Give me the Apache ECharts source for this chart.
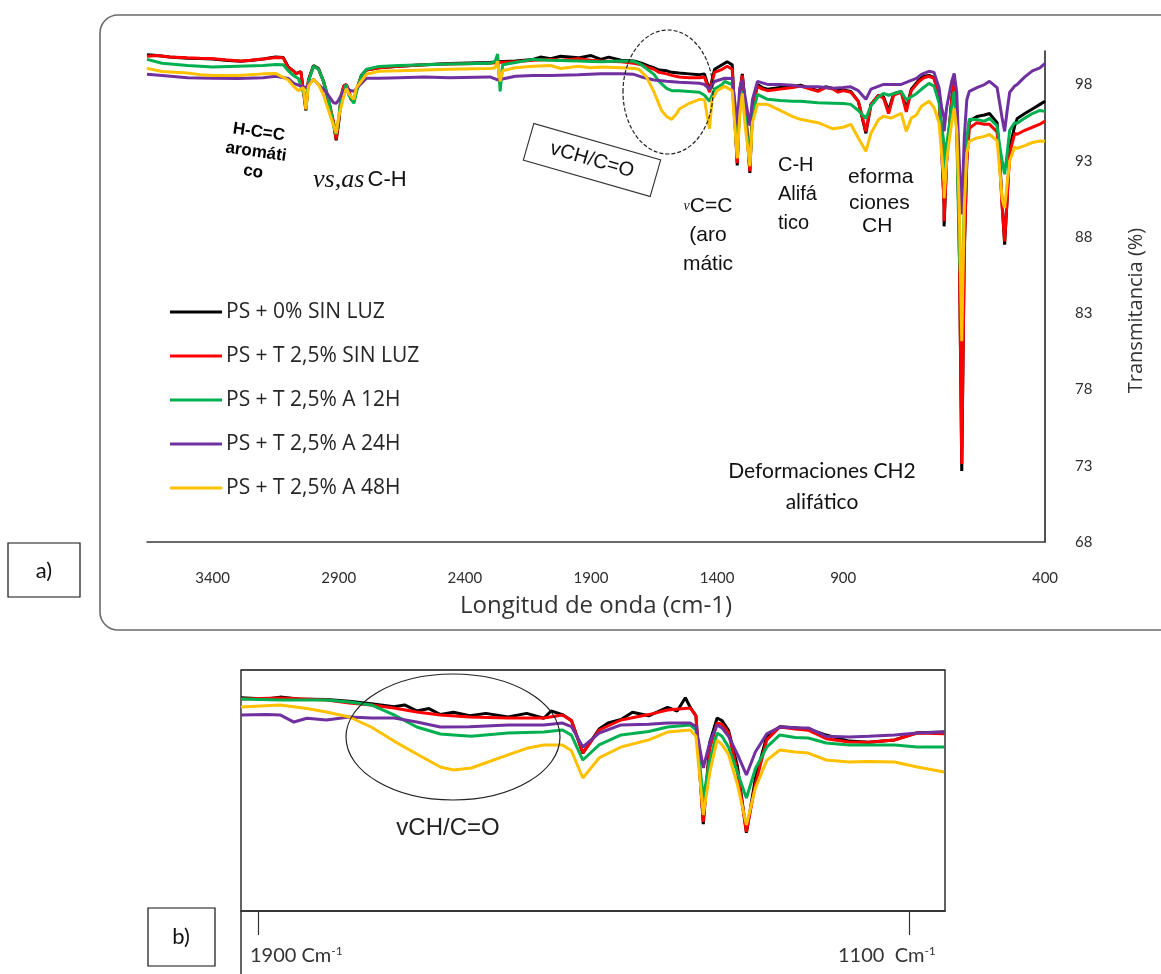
<!DOCTYPE html>
<html>
<head>
<meta charset="utf-8">
<script src="https://cdn.jsdelivr.net/npm/echarts@6/dist/echarts.min.js"></script>
<style>
  html, body { margin: 0; padding: 0; background: #fff; }
  #chart { width: 1161px; height: 974px; }
</style>
</head>
<body>
<div id="chart"></div>
<script>
// ---- Spectra data: [wavenumber (cm-1), transmittance (%)] ----
const seriesNames = ['PS + 0% SIN LUZ', 'PS + T 2,5% SIN LUZ', 'PS + T 2,5% A 12H', 'PS + T 2,5% A 24H', 'PS + T 2,5% A 48H'];
const seriesColors = ['#000000', '#FF0000', '#00B050', '#7030A0', '#FFC000'];

// wavenumber categories of the full-range axis (denser sampling below 900 cm-1)
const wnHigh = { from: 3660, to: 910, step: 10 };
const wnLow = { from: 900, to: 400, step: 6.25 };
const xTickLabels = ['3400', '2900', '2400', '1900', '1400', '900', '400'];
const yTicksA = { min: 68, max: 100.2, interval: 5 };

const ps0 = [[3660,99.95],[3620,99.9],[3570,99.8],[3500,99.72],[3450,99.7],[3400,99.68],[3350,99.6],[3290,99.52],[3250,99.58],[3200,99.68],[3150,99.8],[3120,99.78],[3100,99.15],[3080,98.9],[3070,98.72],[3050,98.85],[3030,96.3],[3020,98.3],[3000,99.25],[2980,99.05],[2960,98.2],[2940,96.9],[2920,95.4],[2910,94.35],[2900,95.5],[2890,97.2],[2880,97.9],[2870,98.0],[2860,97.6],[2850,97.0],[2840,96.9],[2830,97.6],[2810,98.6],[2790,98.95],[2740,99.1],[2660,99.2],[2560,99.3],[2460,99.38],[2300,99.45],[2270,99.5],[2200,99.55],[2130,99.65],[2100,99.8],[2060,99.7],[2020,99.85],[1950,99.75],[1900,99.9],[1860,99.65],[1830,99.8],[1780,99.6],[1730,99.55],[1700,99.4],[1670,99.2],[1650,99.1],[1630,98.95],[1600,98.9],[1580,98.8],[1550,98.75],[1510,98.7],[1470,98.65],[1450,98.7],[1430,97.6],[1410,99.0],[1380,99.3],[1360,99.5],[1340,99.3],[1320,92.7],[1310,97.5],[1300,98.7],[1290,97.0],[1270,92.2],[1260,96.5],[1240,98.0],[1220,97.8],[1200,97.7],[1150,97.8],[1100,97.85],[1070,97.95],[1030,97.75],[1000,97.6],[970,97.85],[940,97.75],[920,97.6],[900,97.65],[880,97.55],[860,96.9],[843,94.8],[830,96.7],[815,97.3],[800,97.2],[790,96.3],[775,97.4],[756,97.55],[744,96.4],[730,97.7],[710,98.3],[700,98.55],[690,98.6],[675,98.45],[665,97.3],[659,94],[653,90],[647,88.7],[641,93],[634,97.0],[627,98.25],[619,96],[612,88],[605,72.65],[598,87],[591,93],[585,95.6],[570,95.9],[550,96.0],[536,96.1],[520,95.5],[510,93.3],[504,90.2],[498,87.5],[492,90.5],[485,93.8],[478,95.3],[469,95.78],[450,96.1],[430,96.4],[415,96.7],[400,96.9]];

const psT25 = [[3660,99.85],[3620,99.9],[3570,99.8],[3500,99.75],[3450,99.72],[3400,99.7],[3350,99.62],[3290,99.55],[3250,99.6],[3200,99.68],[3150,99.78],[3120,99.75],[3100,99.1],[3080,98.9],[3070,98.7],[3050,98.85],[3030,96.4],[3020,98.3],[3000,99.2],[2980,99.0],[2960,98.2],[2940,97.0],[2920,95.5],[2910,94.41],[2900,95.6],[2890,97.3],[2880,97.9],[2870,98.0],[2860,97.6],[2850,97.0],[2840,96.9],[2830,97.6],[2810,98.6],[2790,98.95],[2740,99.1],[2660,99.2],[2560,99.3],[2460,99.35],[2300,99.4],[2270,99.45],[2200,99.5],[2130,99.6],[2060,99.65],[2020,99.6],[1950,99.7],[1900,99.6],[1860,99.55],[1780,99.5],[1730,99.4],[1700,99.3],[1670,99.1],[1650,99.0],[1630,98.8],[1600,98.7],[1580,98.6],[1550,98.5],[1510,98.45],[1470,98.45],[1450,98.5],[1430,97.5],[1410,98.8],[1380,99.0],[1360,99.2],[1340,99.0],[1320,92.84],[1310,97.4],[1300,98.6],[1290,96.9],[1270,92.31],[1260,96.4],[1240,97.88],[1220,97.7],[1200,97.6],[1150,97.7],[1100,97.8],[1070,97.9],[1030,97.7],[1000,97.55],[970,97.8],[940,97.7],[920,97.5],[900,97.6],[880,97.5],[860,96.9],[843,94.93],[830,96.7],[815,97.3],[800,97.1],[790,96.1],[775,97.3],[756,97.5],[744,96.2],[730,97.6],[710,98.2],[700,98.45],[690,98.54],[675,98.4],[665,97.3],[659,94],[653,90],[647,89.04],[641,93],[634,97.0],[627,98.2],[619,96],[612,88],[605,73.11],[598,87],[591,93],[585,95.13],[570,95.5],[550,95.4],[536,95.39],[520,94.9],[510,93.0],[504,90],[498,87.72],[492,90.5],[485,93.5],[478,94.8],[469,94.74],[450,95.0],[430,95.2],[415,95.4],[400,95.6]];

const psT25h12 = [[3660,99.65],[3600,99.4],[3500,99.25],[3450,99.2],[3400,99.15],[3300,99.2],[3200,99.25],[3150,99.32],[3120,99.3],[3100,98.9],[3080,98.6],[3060,98.4],[3030,97.0],[3020,98.2],[3000,99.2],[2980,99.0],[2960,98.2],[2940,97.0],[2920,95.3],[2910,94.74],[2900,95.8],[2890,97.3],[2870,98.0],[2855,97.3],[2840,96.77],[2830,97.5],[2810,98.6],[2790,99.0],[2740,99.19],[2660,99.25],[2560,99.3],[2460,99.35],[2300,99.4],[2280,99.5],[2270,100.0],[2260,97.55],[2250,99.3],[2200,99.45],[2130,99.65],[2060,99.6],[1950,99.55],[1860,99.5],[1780,99.55],[1730,99.52],[1700,99.3],[1650,98.67],[1630,98.2],[1600,97.75],[1580,97.6],[1550,97.6],[1510,97.55],[1470,97.5],[1450,97.3],[1430,96.9],[1410,97.7],[1380,98.0],[1370,98.2],[1340,98.0],[1320,93.3],[1310,96.6],[1300,97.6],[1290,96.2],[1270,92.8],[1260,95.9],[1240,97.36],[1200,97.03],[1150,96.95],[1100,96.9],[1070,96.9],[1000,96.8],[940,96.77],[900,96.75],[881,96.7],[860,96.3],[843,95.78],[830,96.6],[815,97.2],[800,97.42],[790,97.3],[756,97.55],[744,97.0],[720,97.4],[706,97.69],[690,98.08],[675,97.9],[665,96.8],[653,94],[647,92.12],[641,94],[634,96.5],[627,97.55],[619,95],[612,87],[605,83.79],[598,90],[591,94.5],[585,95.72],[570,95.7],[550,95.6],[536,95.78],[520,95.3],[510,94],[504,93],[498,92.12],[492,93.5],[485,95],[478,95.5],[469,95.46],[450,95.8],[430,96.1],[415,96.3],[400,96.24]];

const psT25h24 = [[3660,98.67],[3600,98.6],[3500,98.45],[3400,98.41],[3300,98.4],[3200,98.45],[3150,98.54],[3100,98.4],[3080,98.1],[3050,97.9],[3030,97.8],[3000,98.34],[2980,98.0],[2950,97.5],[2920,96.8],[2910,96.77],[2900,97.0],[2880,97.6],[2870,97.7],[2850,97.6],[2840,97.55],[2820,97.9],[2790,98.41],[2740,98.41],[2660,98.45],[2560,98.5],[2460,98.45],[2300,98.5],[2270,98.3],[2200,98.55],[2130,98.6],[2060,98.6],[1950,98.65],[1860,98.7],[1780,98.7],[1730,98.67],[1700,98.5],[1650,98.3],[1600,98.21],[1550,98.15],[1470,98.08],[1450,98.0],[1430,97.7],[1410,98.2],[1370,98.41],[1340,98.4],[1320,95.4],[1310,97.8],[1300,98.3],[1290,97.3],[1270,95.3],[1260,97.0],[1240,98.21],[1200,98.01],[1150,98.0],[1100,97.95],[1070,97.88],[1000,97.85],[940,97.75],[900,97.8],[881,97.85],[860,97.6],[843,97.03],[830,97.7],[800,98.01],[756,98.01],[720,98.4],[706,98.67],[690,98.87],[675,98.8],[665,97.8],[659,96.5],[653,95.8],[647,94.93],[641,96.5],[634,98.2],[627,98.73],[619,97.5],[612,93],[605,89.49],[598,94.5],[591,97],[585,97.55],[570,97.8],[550,98.0],[536,98.21],[520,97.8],[510,96.8],[504,95.8],[498,94.93],[492,96.3],[485,97.5],[478,97.9],[469,98.01],[450,98.5],[430,98.9],[415,99.1],[400,99.39]];

const psT25h48 = [[3660,99.06],[3600,98.85],[3500,98.75],[3450,98.65],[3400,98.6],[3300,98.6],[3200,98.7],[3150,98.73],[3100,98.3],[3080,97.9],[3060,97.6],[3040,97.8],[3030,96.37],[3020,97.9],[3000,98.34],[2980,98.0],[2960,97.3],[2940,96.3],[2920,95.3],[2910,94.8],[2900,95.9],[2880,97.2],[2870,97.75],[2855,97.4],[2840,97.03],[2825,97.8],[2790,98.67],[2740,98.87],[2660,98.9],[2560,98.95],[2460,99.0],[2300,99.05],[2280,99.1],[2270,99.52],[2260,98.2],[2250,98.9],[2200,99.1],[2130,99.2],[2060,99.25],[2020,99.05],[1950,99.2],[1900,99.1],[1860,99.15],[1780,99.1],[1730,99.06],[1710,99.0],[1680,98.5],[1650,97.5],[1620,96.3],[1600,95.9],[1580,95.72],[1560,96.1],[1550,96.4],[1510,96.77],[1470,97.03],[1450,97.0],[1430,95.1],[1420,97.0],[1400,97.6],[1370,97.88],[1340,97.6],[1320,93.16],[1310,96.0],[1300,97.42],[1290,95.5],[1270,92.64],[1260,95.5],[1240,96.7],[1200,96.7],[1150,96.3],[1100,95.9],[1070,95.72],[1000,95.5],[940,95.1],[900,95.2],[881,95.39],[860,94.5],[843,93.62],[830,94.8],[815,95.7],[800,95.92],[780,95.8],[756,96.11],[744,94.93],[730,95.8],[720,96.0],[706,96.57],[690,96.9],[675,96.5],[665,95.5],[659,93.5],[653,91.5],[647,90.54],[641,93],[634,95.5],[627,96.44],[619,95],[612,90],[605,81.17],[598,90],[591,93.5],[585,94.28],[570,94.5],[550,94.6],[536,94.74],[520,94.3],[510,92.5],[504,90.5],[498,89.89],[492,91.5],[485,93],[478,93.9],[469,93.82],[450,94.0],[430,94.2],[415,94.3],[400,94.28]];

// ---- Detail of the 1900-1100 cm-1 region ----
const detailRange = { min: 1056, max: 1921 };
const detailTicks = [1900, 1100];

const ps0Detail = [[1921,97.7],[1890,97.6],[1873,97.75],[1850,97.6],[1816,97.55],[1788,97.4],[1761,97.2],[1733,96.95],[1720,97.1],[1705,96.6],[1690,96.8],[1676,96.3],[1660,96.5],[1640,96.2],[1620,96.4],[1593,96.1],[1570,96.4],[1549,96.0],[1540,96.6],[1526,96.3],[1515,95.8],[1501,93.1],[1481,95.1],[1470,95.6],[1454,95.9],[1440,96.5],[1420,96.2],[1397,96.9],[1385,96.6],[1375,97.7],[1369,96.9],[1362,96.2],[1353,87.2],[1345,94.0],[1336,96.02],[1330,95.8],[1322,95.0],[1311,92.0],[1300,86.5],[1289,91],[1275,94.5],[1259,95.3],[1240,95.2],[1224,95.1],[1202,94.6],[1174,94.1],[1150,94.0],[1118,94.2],[1090,94.8],[1057,94.85]];
const psT25Detail = [[1921,97.6],[1873,97.68],[1816,97.51],[1788,97.26],[1761,97.1],[1733,96.85],[1705,96.51],[1676,96.27],[1640,96.1],[1593,96.02],[1549,96.02],[1526,96.27],[1515,95.8],[1501,93.11],[1481,95.02],[1454,95.85],[1420,96.3],[1397,96.68],[1369,96.85],[1362,96.2],[1353,87.39],[1345,93.5],[1336,95.6],[1330,95.5],[1322,94.8],[1311,91.5],[1300,86.56],[1289,90.5],[1275,94.2],[1259,95.27],[1240,95.1],[1224,95.0],[1202,94.3],[1174,94.02],[1150,94.0],[1118,94.19],[1090,94.77],[1057,94.7]];
const psT25h12Detail = [[1921,97.6],[1873,97.51],[1816,97.51],[1788,97.34],[1761,97.1],[1733,96.27],[1705,95.27],[1676,94.69],[1660,94.61],[1638,94.5],[1593,94.77],[1549,94.85],[1526,95.02],[1515,94.6],[1501,92.53],[1481,93.78],[1454,94.61],[1420,94.9],[1397,95.27],[1369,95.44],[1362,95.0],[1353,89.38],[1345,92.5],[1336,94.77],[1330,94.5],[1322,93.6],[1311,91.5],[1300,89.38],[1289,91.8],[1275,93.6],[1259,94.61],[1240,94.4],[1224,94.36],[1202,93.94],[1174,93.78],[1150,93.78],[1118,93.78],[1090,93.61],[1057,93.61]];
const psT25h24Detail = [[1921,96.27],[1890,96.3],[1873,96.27],[1856,95.68],[1840,96.0],[1816,95.85],[1788,96.1],[1761,96.02],[1733,96.02],[1705,95.68],[1676,95.27],[1640,95.3],[1593,95.44],[1549,95.44],[1526,95.6],[1515,95.3],[1501,93.61],[1481,94.77],[1454,95.44],[1420,95.5],[1397,95.6],[1369,95.6],[1362,95.3],[1353,91.87],[1345,94.0],[1336,95.44],[1330,95.2],[1322,94.5],[1311,93.0],[1300,91.29],[1289,93.2],[1275,94.7],[1259,95.27],[1240,95.2],[1224,95.19],[1202,94.5],[1174,94.44],[1150,94.5],[1118,94.61],[1090,94.77],[1057,94.85]];
const psT25h48Detail = [[1921,96.93],[1873,97.1],[1840,96.8],[1816,96.51],[1788,96.1],[1761,95.27],[1733,94.1],[1705,93.03],[1676,91.95],[1660,91.7],[1638,91.87],[1620,92.3],[1593,92.95],[1570,93.5],[1549,93.78],[1526,93.78],[1515,93.3],[1501,91.04],[1481,92.7],[1454,93.61],[1420,94.2],[1397,94.85],[1369,95.02],[1362,94.5],[1353,87.97],[1345,91.5],[1336,94.19],[1330,93.8],[1322,93.0],[1311,90.5],[1300,87.14],[1289,90.2],[1275,92.5],[1259,93.36],[1240,93.2],[1224,93.11],[1202,92.53],[1174,92.37],[1150,92.4],[1118,92.37],[1090,91.95],[1057,91.54]];

const fullSpectra = [ps0, psT25, psT25h12, psT25h24, psT25h48];
const detailSpectra = [ps0Detail, psT25Detail, psT25h12Detail, psT25h24Detail, psT25h48Detail];

// ---- category axis built from the two sampling segments ----
const wnValues = [];
for (let w = wnHigh.from; w >= wnHigh.to; w -= wnHigh.step) wnValues.push(w);
for (let w = wnLow.from; w >= wnLow.to; w -= wnLow.step) wnValues.push(w);
const wnCategories = wnValues.map(w => String(w));

function categoryIndex(w) {
  let best = 0, bestD = Infinity;
  for (let i = 0; i < wnValues.length; i++) {
    const d = Math.abs(wnValues[i] - w);
    if (d < bestD) { bestD = d; best = i; }
  }
  return best;
}

const SANS = '"Liberation Sans", Arial, sans-serif';
const CAL = 'Lato, "Open Sans", sans-serif';
const WIDE = '"Open Sans", Lato, sans-serif';

const series = [];
fullSpectra.forEach((pts, k) => {
  series.push({
    name: seriesNames[k], type: 'line', xAxisIndex: 0, yAxisIndex: 0,
    data: pts.map(p => [categoryIndex(p[0]), p[1]]),
    showSymbol: false, symbol: 'none', lineStyle: { width: 3, color: seriesColors[k] },
    itemStyle: { color: seriesColors[k] }, z: 2 + k, silent: true
  });
});
detailSpectra.forEach((pts, k) => {
  series.push({
    name: seriesNames[k], type: 'line', xAxisIndex: 1, yAxisIndex: 1,
    data: pts, showSymbol: false, symbol: 'none',
    lineStyle: { width: 3, color: seriesColors[k] },
    itemStyle: { color: seriesColors[k] }, z: 2 + k, silent: true
  });
});

const chart = echarts.init(document.getElementById('chart'), null, { renderer: 'canvas' });

const option = {
  animation: false,
  backgroundColor: '#ffffff',
  color: seriesColors,
  grid: [
    { left: 147, top: 51, width: 898, height: 491 },
    { left: 241, top: 670, width: 704, height: 241 }
  ],
  legend: {
    data: seriesNames,
    orient: 'vertical', left: 170, top: 301, padding: 0,
    icon: 'rect', itemWidth: 52, itemHeight: 3, itemGap: 22,
    textStyle: { fontFamily: WIDE, fontSize: 21, color: '#262626', lineHeight: 22, padding: [0, 0, 0, -1] },
    selectedMode: false
  },
  xAxis: [
    {
      type: 'category', gridIndex: 0, data: wnCategories, boundaryGap: false,
      axisLine: { show: true, lineStyle: { color: '#3a3a3a', width: 1.5 } },
      axisTick: { show: false },
      axisLabel: {
        interval: (idx, val) => xTickLabels.includes(val),
        margin: 29, fontFamily: CAL, fontSize: 15, color: '#2e2e2e'
      },
      splitLine: { show: false },
      name: 'Longitud de onda (cm-1)', nameLocation: 'middle', nameGap: 52,
      nameTextStyle: { fontFamily: WIDE, fontSize: 24, color: '#333' }
    },
    {
      type: 'value', gridIndex: 1, inverse: true,
      min: detailRange.min, max: detailRange.max,
      axisLine: { show: true, onZero: false, lineStyle: { color: '#333', width: 1.5 } },
      axisTick: { show: true, customValues: detailTicks, length: 24, lineStyle: { color: '#333', width: 1.2 } },
      axisLabel: { show: false },
      splitLine: { show: false }
    }
  ],
  yAxis: [
    {
      type: 'value', gridIndex: 0, position: 'right',
      min: yTicksA.min, max: yTicksA.max, interval: yTicksA.interval,
      axisLine: { show: true, lineStyle: { color: '#1a1a1a', width: 1.5 } },
      axisTick: { show: false },
      splitLine: { show: false },
      axisLabel: {
        margin: 30, fontFamily: CAL, fontSize: 15, color: '#2e2e2e',
        formatter: v => (Math.abs((v - yTicksA.min) % yTicksA.interval) < 1e-6 ? String(v) : '')
      },
      name: 'Transmitancia (%)', nameLocation: 'middle', nameGap: 81, nameRotate: 90,
      nameTextStyle: { fontFamily: WIDE, fontSize: 20, color: '#333', padding: [0, 28, 0, 0] }
    },
    { type: 'value', gridIndex: 1, min: 80, max: 100, show: false }
  ],
  series: series,
  graphic: [
    // panel frames and tags
    { type: 'rect', shape: { x: 100, y: 15, width: 1110, height: 615, r: 18 }, style: { fill: 'none', stroke: '#6a6a6a', lineWidth: 1.6 }, z: 0 },
    { type: 'rect', shape: { x: 8, y: 543, width: 72, height: 54 }, style: { fill: 'none', stroke: '#111', lineWidth: 1.2 } },
    { type: 'text', x: 44, y: 571, style: { text: 'a)', font: '22px ' + CAL, fill: '#111', align: 'center', verticalAlign: 'middle' } },
    { type: 'rect', shape: { x: 241, y: 670, width: 704, height: 241 }, style: { fill: 'none', stroke: '#111', lineWidth: 1.3 }, z: 0 },
    { type: 'line', shape: { x1: 241, y1: 911, x2: 241, y2: 974 }, style: { stroke: '#111', lineWidth: 1.3 } },
    { type: 'rect', shape: { x: 148, y: 908, width: 67, height: 58 }, style: { fill: 'none', stroke: '#111', lineWidth: 1.2 } },
    { type: 'text', x: 181, y: 937, style: { text: 'b)', font: '22px ' + CAL, fill: '#111', align: 'center', verticalAlign: 'middle' } },

    // band annotations, full spectrum
    { type: 'text', x: 256, y: 152, rotation: -0.14, z: 20,
      style: { text: 'H-C=C\naromáti\nco', font: 'bold 17px ' + SANS, fill: '#000', align: 'center', verticalAlign: 'middle', lineHeight: 20 } },
    { type: 'text', x: 313, y: 180, z: 20,
      style: { text: '{i|vs,as} {n|C-H}', align: 'left', verticalAlign: 'middle',
        rich: { i: { font: 'italic 26px "Liberation Serif", serif', fill: '#111' }, n: { font: '22px ' + SANS, fill: '#111' } } } },
    { type: 'group', x: 592, y: 160, rotation: -0.28, z: 20, children: [
      { type: 'rect', shape: { x: -66, y: -19, width: 132, height: 38 }, style: { fill: '#fff', stroke: '#333', lineWidth: 1.1 } },
      { type: 'text', x: 0, y: 0, style: { text: 'vCH/C=O', font: '20px ' + SANS, fill: '#111', align: 'center', verticalAlign: 'middle' } }
    ] },
    { type: 'ellipse', shape: { cx: 668, cy: 92, rx: 45, ry: 62 }, style: { fill: 'none', stroke: '#222', lineWidth: 1.2, lineDash: [4, 2] }, z: 20 },
    { type: 'text', x: 708, y: 192, z: 20,
      style: { text: '{g|ν}{n|C=C}\n{n|(aro}\n{n|mátic}', align: 'center', verticalAlign: 'top', lineHeight: 29,
        rich: { g: { font: 'italic 14px "Liberation Serif", serif', fill: '#111', lineHeight: 29 }, n: { font: '21px ' + SANS, fill: '#111', lineHeight: 29 } } } },
    { type: 'text', x: 778, y: 151, z: 20,
      style: { text: 'C-H\nAlifá\ntico', font: '20px ' + SANS, fill: '#111', align: 'left', verticalAlign: 'top', lineHeight: 29 } },
    { type: 'text', x: 848, y: 177, z: 20, style: { text: 'eforma', font: '21px ' + SANS, fill: '#111', align: 'left', verticalAlign: 'middle' } },
    { type: 'text', x: 849, y: 203, z: 20, style: { text: 'ciones', font: '21px ' + SANS, fill: '#111', align: 'left', verticalAlign: 'middle' } },
    { type: 'text', x: 862, y: 226, z: 20, style: { text: 'CH', font: '21px ' + SANS, fill: '#111', align: 'left', verticalAlign: 'middle' } },
    { type: 'text', x: 822, y: 487, z: 20,
      style: { text: 'Deformaciones CH2\nalifático', font: '21px ' + CAL, fill: '#111', align: 'center', verticalAlign: 'middle', lineHeight: 31 } },

    // detail panel annotations
    { type: 'ellipse', shape: { cx: 453, cy: 737, rx: 107, ry: 63 }, style: { fill: 'none', stroke: '#222', lineWidth: 1.2 }, z: 20 },
    { type: 'text', x: 448, y: 828, z: 20, style: { text: 'vCH/C=O', font: '24px ' + SANS, fill: '#222', align: 'center', verticalAlign: 'middle' } },
    { type: 'text', x: 250, y: 956, z: 20,
      style: { text: '{n|1900 Cm}{s|-1}', align: 'left', verticalAlign: 'middle',
        rich: { n: { font: '20px ' + CAL, fill: '#333' }, s: { font: '12px ' + CAL, fill: '#333', verticalAlign: 'top', padding: [0, 0, 10, 0] } } } },
    { type: 'text', x: 838, y: 956, z: 20,
      style: { text: '{n|1100  Cm}{s|-1}', align: 'left', verticalAlign: 'middle',
        rich: { n: { font: '20px ' + CAL, fill: '#333' }, s: { font: '12px ' + CAL, fill: '#333', verticalAlign: 'top', padding: [0, 0, 10, 0] } } } }
  ]
};

chart.setOption(option);
</script>
</body>
</html>
